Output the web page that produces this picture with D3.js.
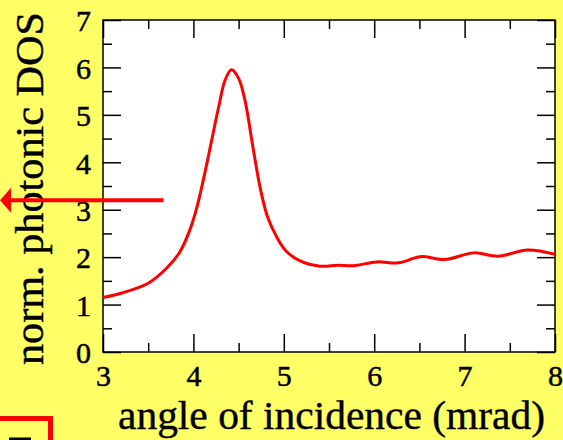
<!DOCTYPE html>
<html>
<head>
<meta charset="utf-8">
<script src="https://cdn.jsdelivr.net/npm/d3@7"></script>
<style>
  html, body { margin: 0; padding: 0; background: #ffff66; }
  svg { display: block; }
  .tick text { font-family: "Liberation Serif", serif; font-size: 30px; fill: #000; stroke: #000; stroke-width: 0.5px; }
</style>
</head>
<body>
<svg id="chart" width="563" height="440"></svg>
<script>
// angle of incidence (mrad)
const angles = [3.0, 3.2, 3.5, 3.7, 3.85, 3.96, 4.04, 4.11, 4.18, 4.28, 4.35, 4.42, 4.5, 4.57, 4.66,
  4.74, 4.82, 4.92, 5.03, 5.18, 5.4, 5.6, 5.77, 6.03, 6.27, 6.51, 6.78, 7.1, 7.37, 7.7, 8.0];
// normalised photonic DOS
const dos = [1.15, 1.24, 1.45, 1.76, 2.11, 2.57, 3.06, 3.63, 4.26, 5.17, 5.73, 5.95, 5.77, 5.31, 4.3,
  3.45, 2.85, 2.43, 2.12, 1.92, 1.81, 1.83, 1.82, 1.9, 1.88, 2.01, 1.95, 2.09, 2.02, 2.15, 2.06];

const xTicks = [3, 4, 5, 6, 7, 8];
const yTicks = [0, 1, 2, 3, 4, 5, 6, 7];
const xMinor = [3.5, 4.5, 5.5, 6.5, 7.5];
const yMinor = [0.5, 1.5, 2.5, 3.5, 4.5, 5.5, 6.5];

// arrow annotation (data units): from x end to left edge at this level
const arrowLevel = 3.2;
const arrowEnd = 3.67;

const svg = d3.select('#chart');
const W = 563, H = 440;
const margin = {left: 103, right: 8, top: 20, bottom: 88};

const x = d3.scaleLinear().domain([3, 8]).range([margin.left, W - margin.right]);
const y = d3.scaleLinear().domain([0, 7]).range([H - margin.bottom, margin.top]);

svg.append('rect').attr('width', W).attr('height', H).attr('fill', '#ffff66');

svg.append('rect')
  .attr('x', x(3)).attr('y', y(7))
  .attr('width', x(8) - x(3)).attr('height', y(0) - y(7))
  .attr('fill', '#fff');

const MAJ = 18, MIN = 9;

function styleAxis(g) {
  g.select('.domain').remove();
  g.selectAll('.tick line').attr('stroke', '#000').attr('stroke-width', 1.5);
}

// bottom
svg.append('g').attr('transform', `translate(0,${y(0)})`)
  .call(d3.axisBottom(x).tickValues(xTicks).tickSize(-MAJ).tickPadding(13).tickFormat(d3.format('d')))
  .call(styleAxis);
svg.append('g').attr('transform', `translate(0,${y(0)})`)
  .call(d3.axisBottom(x).tickValues(xMinor).tickSize(-MIN).tickFormat(''))
  .call(styleAxis);
// top
svg.append('g').attr('transform', `translate(0,${y(7)})`)
  .call(d3.axisTop(x).tickValues(xTicks).tickSize(-MAJ).tickFormat(''))
  .call(styleAxis);
svg.append('g').attr('transform', `translate(0,${y(7)})`)
  .call(d3.axisTop(x).tickValues(xMinor).tickSize(-MIN).tickFormat(''))
  .call(styleAxis);
// left
svg.append('g').attr('transform', `translate(${x(3)},0)`)
  .call(d3.axisLeft(y).tickValues(yTicks).tickSize(-MAJ).tickPadding(12).tickFormat(d3.format('d')))
  .call(styleAxis)
  .selectAll('.tick text').attr('dy', '0.36em');
svg.append('g').attr('transform', `translate(${x(3)},0)`)
  .call(d3.axisLeft(y).tickValues(yMinor).tickSize(-MIN).tickFormat(''))
  .call(styleAxis);
// right
svg.append('g').attr('transform', `translate(${x(8)},0)`)
  .call(d3.axisRight(y).tickValues(yTicks).tickSize(-MAJ).tickFormat(''))
  .call(styleAxis);
svg.append('g').attr('transform', `translate(${x(8)},0)`)
  .call(d3.axisRight(y).tickValues(yMinor).tickSize(-MIN).tickFormat(''))
  .call(styleAxis);

// frame
svg.append('rect')
  .attr('x', x(3)).attr('y', y(7))
  .attr('width', x(8) - x(3)).attr('height', y(0) - y(7))
  .attr('fill', 'none').attr('stroke', '#000').attr('stroke-width', 1.5);

// curve
const line = d3.line()
  .x((d, i) => x(angles[i]))
  .y(d => y(d))
  .curve(d3.curveCatmullRom.alpha(0.5));

svg.append('path')
  .datum(dos)
  .attr('d', line)
  .attr('fill', 'none')
  .attr('stroke', '#ff0000')
  .attr('stroke-width', 3)
  .attr('stroke-linejoin', 'round');

// axis titles
svg.append('text')
  .attr('x', 331.5).attr('y', 429)
  .attr('text-anchor', 'middle')
  .attr('font-family', '"Liberation Serif", serif')
  .attr('font-size', 40)
  .attr('stroke', '#000').attr('stroke-width', 0.4)
  .attr('textLength', 427).attr('lengthAdjust', 'spacingAndGlyphs')
  .text('angle of incidence (mrad)');

svg.append('text')
  .attr('transform', 'translate(43,188.5) rotate(-90)')
  .attr('text-anchor', 'middle')
  .attr('font-family', '"Liberation Serif", serif')
  .attr('font-size', 40)
  .attr('stroke', '#000').attr('stroke-width', 0.4)
  .attr('textLength', 353).attr('lengthAdjust', 'spacingAndGlyphs')
  .text('norm. photonic DOS');

// red arrow pointing left
const ay = y(arrowLevel);
svg.append('line')
  .attr('x1', x(arrowEnd)).attr('x2', 8)
  .attr('y1', ay).attr('y2', ay)
  .attr('stroke', '#ff0000').attr('stroke-width', 4);
svg.append('path')
  .attr('d', `M0,${ay} L11,${ay - 12.5} L11,${ay + 12.5} Z`)
  .attr('fill', '#ff0000');

// partial red box at bottom-left (cut off)
svg.append('rect')
  .attr('x', -10).attr('y', 418.5)
  .attr('width', 60.5).attr('height', 40)
  .attr('fill', 'none').attr('stroke', '#ff0000').attr('stroke-width', 5);
svg.append('rect')
  .attr('x', 9).attr('y', 437.5).attr('width', 22).attr('height', 4)
  .attr('fill', '#000');
</script>
</body>
</html>
